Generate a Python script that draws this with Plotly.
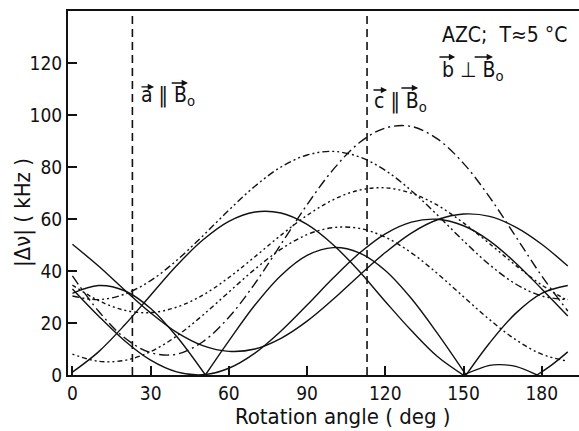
import plotly.graph_objects as go

# Rotation angle grid (deg)
angles = [0, 10, 20, 30, 40, 50, 60, 70, 80, 90, 100, 110, 120, 130, 140, 150, 160, 170, 180, 190]

# Quadrupole splittings |Δν| in kHz for each deuteron site
site_a = [30.4, 29.0, 31.1, 36.3, 44.1, 53.5, 63.4, 72.6, 80.0, 84.6, 86.0, 83.9, 78.7, 70.9, 61.5, 51.6, 42.4, 35.0, 30.4, 29.0]
site_b = [38.1, 24.6, 14.3, 8.6, 8.0, 12.8, 22.2, 35.2, 50.3, 65.5, 79.0, 89.3, 95.0, 95.6, 90.8, 81.4, 68.4, 53.3, 38.1, 24.6]
site_c = [34.6, 28.6, 24.9, 24.0, 26.1, 30.7, 37.5, 45.5, 53.8, 61.4, 67.4, 71.1, 72.0, 69.9, 65.3, 58.5, 50.5, 42.2, 34.6, 28.6]
site_d = [8.0, 5.3, 5.6, 9.0, 15.0, 23.0, 31.9, 40.7, 48.4, 54.0, 56.7, 56.4, 53.0, 47.0, 39.0, 30.1, 21.3, 13.6, 8.0, 5.3]
site_g = [50.3, 41.9, 32.7, 23.9, 16.4, 11.3, 9.1, 10.0, 14.1, 20.7, 29.1, 38.3, 47.1, 54.6, 59.7, 61.9, 61.0, 56.9, 50.3, 41.9]
site_h = [33.1, 22.7, 13.2, 5.7, 1.2, 0.1, 2.6, 8.4, 16.9, 26.9, 37.3, 46.8, 54.3, 58.8, 59.9, 57.4, 51.6, 43.1, 33.1, 22.7]

# Sites whose splitting passes through zero: branches split at the zero crossings
site_e_angles = [0, 10, 20, 30, 40, 50, 60, 70, 80, 90, 100, 110, 120, 130, 140, 149.9, None,
                 149.9, 160, 164, 170, 178.2, None, 178.2, 184, 190]
site_e = [1.1, 8.9, 19.2, 30.7, 42.1, 51.9, 59.1, 62.7, 62.3, 57.9, 50.1, 39.9, 28.3, 17.1, 7.1, 0.0, None,
          0.0, 3.7, 4.0, 3.3, 0.0, None, 0.0, 4.0, 8.9]
site_f_angles = [0, 10, 20, 30, 40, 51, None, 51, 60, 70, 80, 90, 100, 110, 120, 130, 140, 151, None,
                 151, 160, 170, 180, 190]
site_f = [31.4, 34.4, 32.4, 25.6, 14.8, 0.0, None, 0.0, 13.1, 26.9, 38.3, 46.0, 49.0, 47.0, 40.2, 29.4, 16.0, 0.0, None,
          0.0, 12.3, 23.7, 31.4, 34.4]

# Crystal axis orientations (deg)
axis_marks = [23, 113]

x_ticks = [0, 30, 60, 90, 120, 150, 180]
y_ticks = [0, 20, 40, 60, 80, 100, 120]

FONT = "DejaVu Sans Condensed, DejaVu Sans, sans-serif"
INK = "#111111"

fig = go.Figure()

def add(x, y, dash, width=1.4):
    fig.add_trace(go.Scatter(
        x=x, y=y, mode="lines", connectgaps=False,
        line=dict(color=INK, width=width, dash=dash, shape="spline", smoothing=1.0),
        hoverinfo="skip", showlegend=False))

add(angles, site_a, "7px,3px,2px,3px,2px,3px")
add(angles, site_b, "10px,4px,2px,4px")
add(angles, site_c, "4px,3px,2px,3px,2px,3px")
add(angles, site_d, "2px,3px,2px,3px,5px,3px")
add(angles, site_g, "solid")
add(angles, site_h, "solid")
add(site_e_angles, site_e, "solid")
add(site_f_angles, site_f, "solid")

for xm in axis_marks:
    fig.add_shape(type="line", x0=xm, x1=xm, y0=0, y1=1, xref="x", yref="paper",
                  line=dict(color=INK, width=1.6, dash="8px,5px"))

# Labels: vector relations and sample conditions
ann_font = dict(family=FONT, size=21, color=INK)
labels = [
    (25.6, 107.5, "a \u2016 B<sub>o</sub>"),
    (115.0, 105.0, "c \u2016 B<sub>o</sub>"),
    (141.0, 130.6, "AZC;  T\u22485 \u00b0C"),
    (141.0, 117.0, "b \u22a5 B<sub>o</sub>"),
]
for lx, ly, txt in labels:
    fig.add_annotation(x=lx, y=ly, text=txt, showarrow=False, xanchor="left", yanchor="middle",
                       font=ann_font)

# Vector arrows drawn above the letters a, b, c and B
vec_arrows = [
    (25.9, 31.3, 110.8), (37.5, 44.3, 112.3),
    (114.9, 120.7, 109.6), (125.6, 132.6, 110.4),
    (140.2, 146.8, 122.3), (153.7, 161.3, 122.3),
]
for x0, x1, yv in vec_arrows:
    fig.add_annotation(x=x1, y=yv, ax=x0, ay=yv, axref="x", ayref="y", xref="x", yref="y",
                       text="", showarrow=True, arrowhead=2, arrowsize=0.9, arrowwidth=1.4,
                       arrowcolor=INK)

# Axis titles
fig.add_annotation(x=0.539, y=-0.115, xref="paper", yref="paper", text="Rotation angle ( deg )",
                   showarrow=False, xanchor="center", yanchor="middle",
                   font=dict(family=FONT, size=22, color=INK))
fig.add_annotation(x=-0.088, y=0.445, xref="paper", yref="paper", text="|\u0394\u03bd| ( kHz )",
                   textangle=-90, showarrow=False, xanchor="center", yanchor="middle",
                   font=dict(family=FONT, size=22, color=INK))

fig.update_layout(
    width=579, height=431,
    margin=dict(l=68, r=0, t=11, b=56),
    paper_bgcolor="white", plot_bgcolor="white",
    font=dict(family=FONT, size=19, color=INK),
)
fig.update_xaxes(
    range=[-1.7, 194.3], tickvals=x_ticks, ticks="inside", ticklen=9, tickwidth=1.5,
    tickcolor=INK, showline=True, linewidth=2, linecolor=INK, mirror=True,
    showgrid=False, zeroline=False,
)
fig.update_yaxes(
    range=[0, 140], tickvals=y_ticks, ticks="inside", ticklen=9, tickwidth=1.5,
    tickcolor=INK, showline=True, linewidth=2, linecolor=INK, mirror=False,
    showgrid=False, zeroline=False,
)

fig.write_html("out.html")
